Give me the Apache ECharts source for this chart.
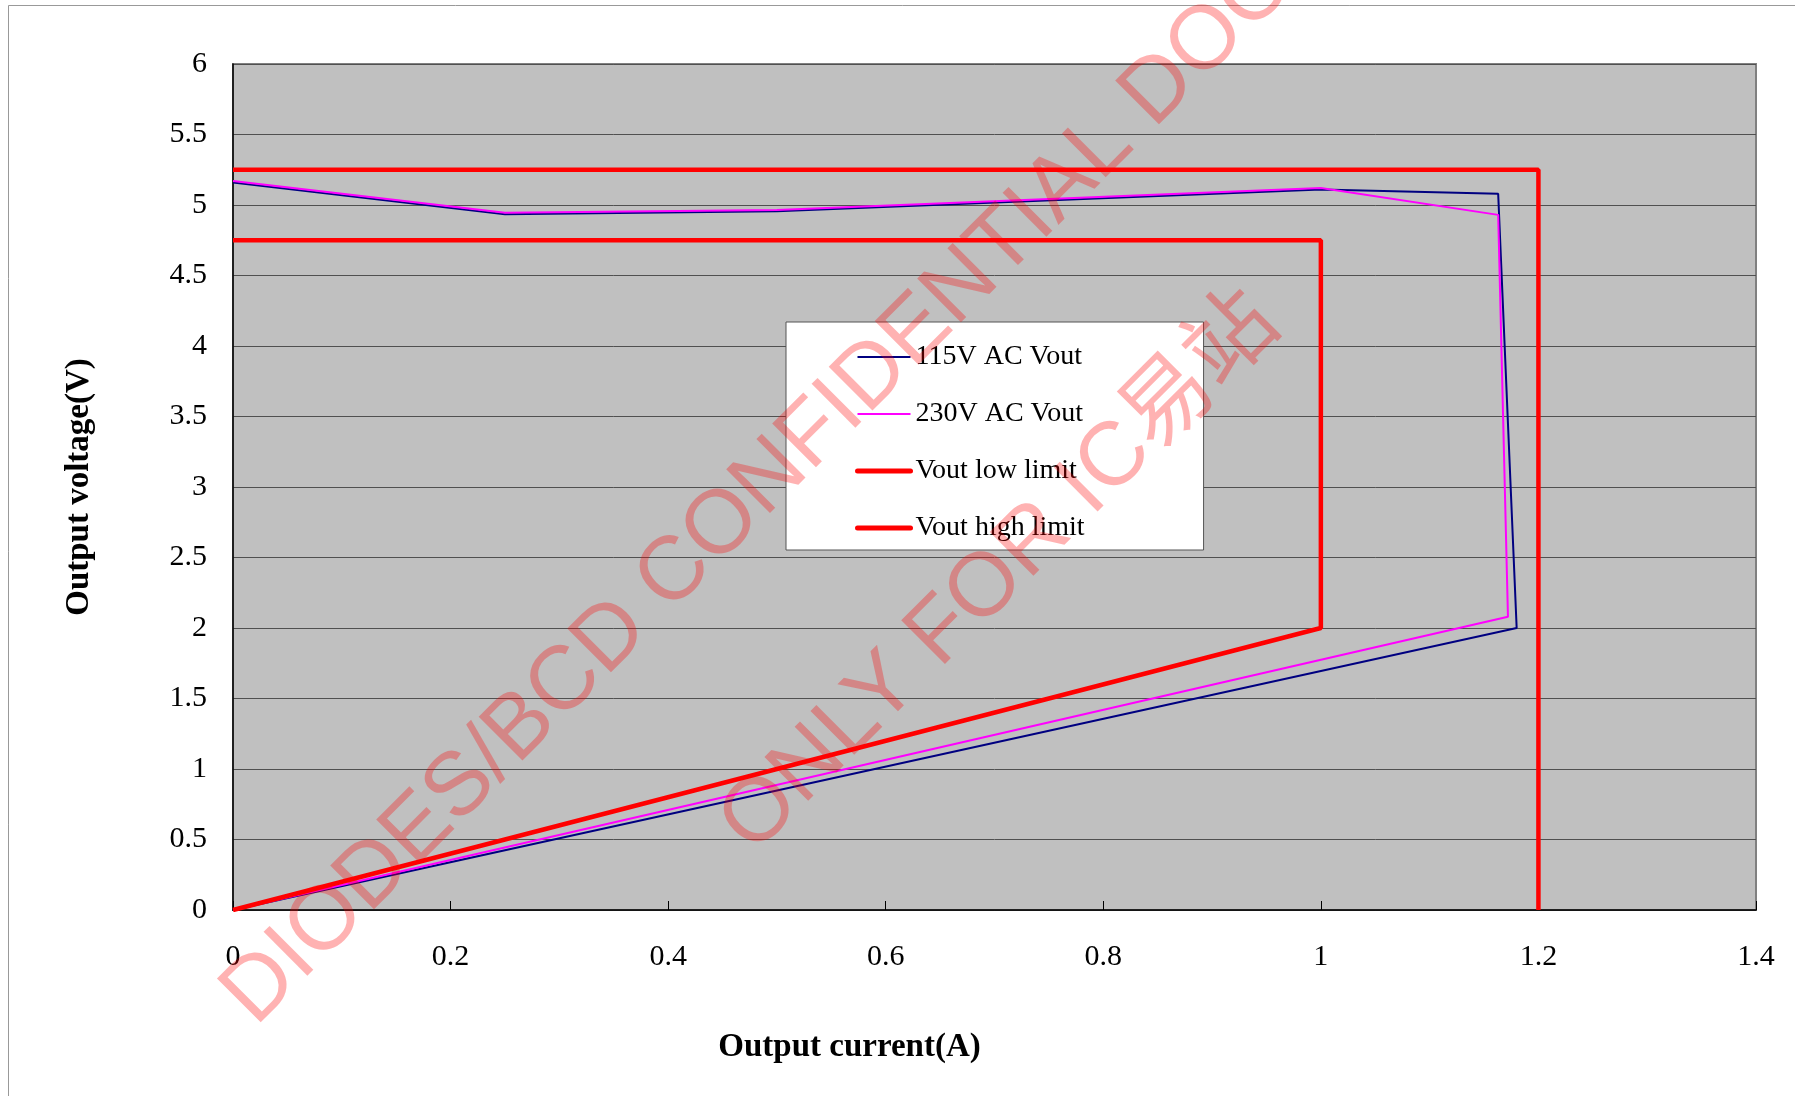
<!DOCTYPE html>
<html>
<head>
<meta charset="utf-8">
<script src="https://cdn.jsdelivr.net/npm/echarts@6/dist/echarts.min.js"></script>
<style>
  html, body { margin: 0; padding: 0; background: #fff; }
  #chart { width: 1795px; height: 1096px; }
</style>
</head>
<body>
<div id="chart"></div>
<script>
// values
var current115 = [0, 0.25, 0.5, 1.0, 1.163, 1.18, 0];
var vout115 = [5.16, 4.935, 4.955, 5.11, 5.08, 2.0, 0];
var current230 = [0, 0.25, 0.5, 1.0, 1.163, 1.172, 0];
var vout230 = [5.17, 4.945, 4.965, 5.12, 4.93, 2.08, 0];
var currentLow = [0, 1.0, 1.0, 0];
var voutLow = [0, 2.0, 4.75, 4.75];
var currentHigh = [0, 1.2, 1.2];
var voutHigh = [5.25, 5.25, 0];

var seriesNames = ['115V AC Vout', '230V AC Vout', 'Vout low limit', 'Vout high limit'];
var watermarks = ['DIODES/BCD CONFIDENTIAL DOC', 'ONLY FOR IC易站'];

function pairs(xs, ys) {
    var out = [];
    for (var i = 0; i < xs.length; i++) out.push([xs[i], ys[i]]);
    return out;
}

var serif = '"Liberation Serif", "Noto Sans CJK SC", serif';
var mark = '"Liberation Sans", "Noto Sans CJK SC", sans-serif';

var myChart = echarts.init(document.getElementById('chart'));

var option = {
    animation: false,
    backgroundColor: '#fff',
    grid: {
        left: 233, top: 64, width: 1523, height: 846,
        show: true,
        backgroundColor: '#C0C0C0',
        borderColor: '#808080',
        borderWidth: 2
    },
    legend: {
        orient: 'vertical',
        left: 786, top: 322,
        padding: [20, 119, 7, 69],
        itemGap: 27,
        itemWidth: 53,
        itemHeight: 14,
        backgroundColor: '#fff',
        borderColor: '#555',
        borderWidth: 1,
        borderRadius: 0,
        // hide the marker dot, keep only the line
        itemStyle: { opacity: 0 },
        lineStyle: { width: 'inherit' },
        textStyle: { fontFamily: serif, fontSize: 28, color: '#000', lineHeight: 30 },
        data: [
            { name: seriesNames[0] },
            { name: seriesNames[1] },
            { name: seriesNames[2], lineStyle: { width: 5, cap: 'round' } },
            { name: seriesNames[3], lineStyle: { width: 5, cap: 'round' } }
        ]
    },
    xAxis: {
        type: 'value',
        min: 0, max: 1.4, interval: 0.2,
        name: 'Output current(A)',
        nameLocation: 'middle',
        nameGap: 121,
        nameTextStyle: { fontFamily: serif, fontSize: 33, fontWeight: 'bold', color: '#000', padding: [0, 290, 0, 0] },
        axisLine: { lineStyle: { color: '#000', width: 1.5 } },
        axisTick: { show: true, inside: true, length: 9, lineStyle: { color: '#000' } },
        axisLabel: { fontFamily: serif, fontSize: 30, color: '#000', margin: 32 },
        splitLine: { show: false }
    },
    yAxis: {
        type: 'value',
        min: 0, max: 6, interval: 0.5,
        name: 'Output voltage(V)',
        nameLocation: 'middle',
        nameGap: 137,
        nameTextStyle: { fontFamily: serif, fontSize: 33, fontWeight: 'bold', color: '#000' },
        axisLine: { show: true, lineStyle: { color: '#000', width: 1.5 } },
        axisTick: { show: false },
        axisLabel: { fontFamily: serif, fontSize: 30, color: '#000', margin: 26 },
        splitLine: { show: true, lineStyle: { color: '#505050', width: 1 } }
    },
    series: [
        {
            name: seriesNames[0], type: 'line', symbol: 'none',
            data: pairs(current115, vout115),
            lineStyle: { color: '#000080', width: 2 }, itemStyle: { color: '#000080' }
        },
        {
            name: seriesNames[1], type: 'line', symbol: 'none',
            data: pairs(current230, vout230),
            lineStyle: { color: '#FF00FF', width: 2 }, itemStyle: { color: '#FF00FF' }
        },
        {
            name: seriesNames[2], type: 'line', symbol: 'none',
            data: pairs(currentLow, voutLow),
            lineStyle: { color: '#FF0000', width: 4.5 }, itemStyle: { color: '#FF0000' }
        },
        {
            name: seriesNames[3], type: 'line', symbol: 'none',
            data: pairs(currentHigh, voutHigh),
            lineStyle: { color: '#FF0000', width: 4.5 }, itemStyle: { color: '#FF0000' }
        }
    ],
    graphic: [
        // page frame, only top and left edges are inside the picture
        {
            type: 'rect', z: -1, silent: true,
            shape: { x: 8.5, y: 5.5, width: 2000, height: 2000 },
            style: { fill: 'none', stroke: '#999', lineWidth: 1 }
        },
        {
            type: 'text', z: 100, silent: true,
            x: 238, y: 1010, rotation: Math.PI / 4,
            style: {
                text: watermarks[0], fontFamily: mark, fontSize: 90,
                fill: 'rgba(255,0,0,0.3)', textAlign: 'left', textVerticalAlign: 'middle'
            }
        },
        {
            type: 'text', z: 100, silent: true,
            x: 736, y: 838, rotation: Math.PI / 4,
            style: {
                text: watermarks[1], fontFamily: mark, fontSize: 90,
                fill: 'rgba(255,0,0,0.3)', textAlign: 'left', textVerticalAlign: 'middle'
            }
        }
    ]
};

myChart.setOption(option, true);
</script>
</body>
</html>
